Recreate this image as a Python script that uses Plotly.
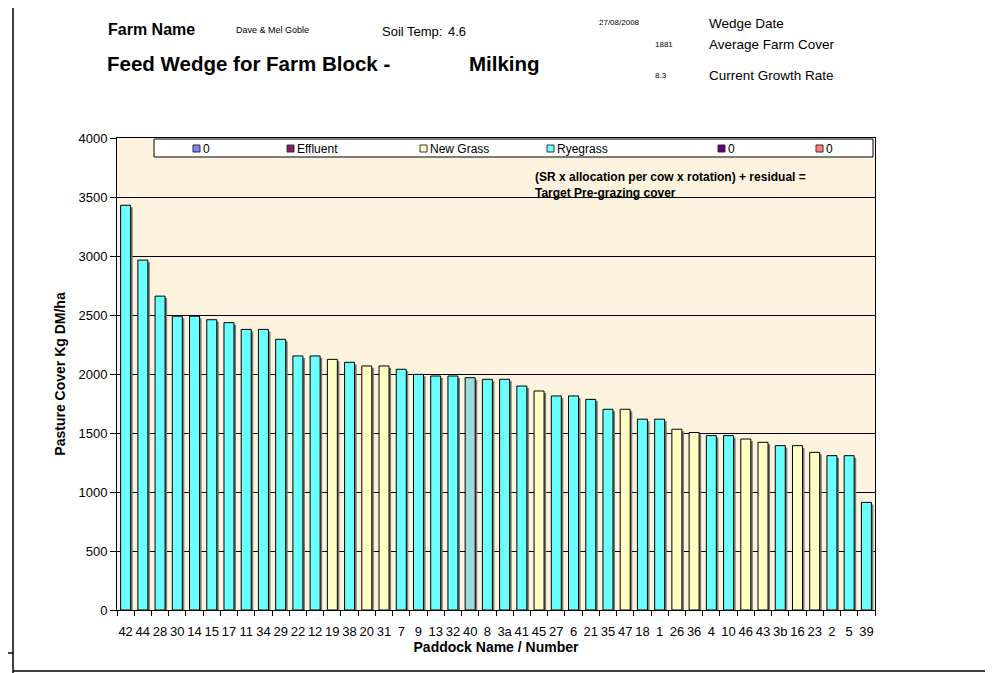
import plotly.graph_objects as go

# ---------------- data ----------------
paddocks = ["42", "44", "28", "30", "14", "15", "17", "11", "34", "29",
            "22", "12", "19", "38", "20", "31", "7", "9", "13", "32",
            "40", "8", "3a", "41", "45", "27", "6", "21", "35", "47",
            "18", "1", "26", "36", "4", "10", "46", "43", "3b", "16",
            "23", "2", "5", "39"]
cover = [3430, 2965, 2660, 2490, 2490, 2460, 2435, 2378, 2378, 2294,
         2153, 2153, 2124, 2099, 2068, 2068, 2040, 1997, 1983, 1983,
         1969, 1955, 1955, 1898, 1856, 1814, 1814, 1785, 1701, 1701,
         1617, 1617, 1532, 1504, 1478, 1478, 1449, 1421, 1393, 1393,
         1336, 1308, 1308, 912]
crop = ["Ryegrass", "Ryegrass", "Ryegrass", "Ryegrass", "Ryegrass", "Ryegrass", "Ryegrass", "Ryegrass", "Ryegrass", "Ryegrass",
        "Ryegrass", "Ryegrass", "New Grass", "Ryegrass", "New Grass", "New Grass", "Ryegrass", "Ryegrass", "Ryegrass", "Ryegrass",
        "Ryegrass", "Ryegrass", "Ryegrass", "Ryegrass", "New Grass", "Ryegrass", "Ryegrass", "Ryegrass", "Ryegrass", "New Grass",
        "Ryegrass", "Ryegrass", "New Grass", "New Grass", "Ryegrass", "Ryegrass", "New Grass", "New Grass", "Ryegrass", "New Grass",
        "New Grass", "Ryegrass", "Ryegrass", "Ryegrass"]
legend_names = ["0", "Effluent", "New Grass", "Ryegrass", "0", "0"]
y_ticks = [0, 500, 1000, 1500, 2000, 2500, 3000, 3500, 4000]

# ---------------- style ----------------
crop_colors = {"Ryegrass": "#6CFFFF", "New Grass": "#FFFFC2"}
highlight = {"40": "#9EDBDE"}
legend_colors = ["#7F7FFF", "#7F1F5F", "#FFFFC2", "#6CFFFF", "#5F0080", "#FF7F7F"]
legend_x = [193, 287, 420, 547, 718, 816]  # pixel positions of swatches (page coords)

OFF = 8  # page body margin of the html page
W, H = 993 - OFF, 673 - OFF
PL, PR, PT, PB = 117, 875, 138, 610   # plot area in page coords
FONT = "Liberation Sans, Arial, sans-serif"

def px_x(p):
    return (p - PL) / (PR - PL)

def px_y(p):
    return (PB - p) / (PB - PT)

bar_colors = [highlight.get(p, crop_colors[c]) for p, c in zip(paddocks, crop)]
bw = 0.58
shadow_drop = 2 * 4000 / (PB - PT)

fig = go.Figure()
fig.add_trace(go.Bar(
    x=paddocks, y=[v - shadow_drop for v in cover],
    width=bw, offset=-bw / 2 + 0.12,
    marker=dict(color="#7A7A72", line=dict(width=0)),
    hoverinfo="skip", showlegend=False))
fig.add_trace(go.Bar(
    x=paddocks, y=cover, width=bw, offset=-bw / 2,
    marker=dict(color=bar_colors, line=dict(color="#000000", width=1)),
    showlegend=False, name="Pasture cover"))

shapes = []
annotations = []

# legend box
shapes.append(dict(type="rect", xref="paper", yref="paper",
                   x0=px_x(154), x1=px_x(873), y0=px_y(157), y1=px_y(139),
                   fillcolor="#FFFFFF", line=dict(color="#000000", width=1), layer="above"))
for name, col, lx in zip(legend_names, legend_colors, legend_x):
    shapes.append(dict(type="rect", xref="paper", yref="paper",
                       x0=px_x(lx), x1=px_x(lx + 7), y0=px_y(152), y1=px_y(145),
                       fillcolor=col, line=dict(color="#333333", width=1), layer="above"))
    annotations.append(dict(text=name, xref="paper", yref="paper",
                            x=px_x(lx + 8), y=px_y(148.5), xanchor="left", yanchor="middle",
                            showarrow=False, font=dict(family=FONT, size=12, color="#000000")))

# page frame lines
frame = [(13, 0, 13, 673), (0, 653, 13, 653), (13, 671, 990, 671)]
for x0, y0, x1, y1 in frame:
    shapes.append(dict(type="line", xref="paper", yref="paper",
                       x0=px_x(x0), y0=px_y(y0), x1=px_x(x1), y1=px_y(y1),
                       line=dict(color="#000000", width=1.5)))
shapes.append(dict(type="line", xref="paper", yref="paper",
                   x0=px_x(990), y0=px_y(0), x1=px_x(990), y1=px_y(671),
                   line=dict(color="#BDBDBD", width=1)))

def txt(s, x, y, size, bold=False, anchor="left"):
    annotations.append(dict(text=f"<b>{s}</b>" if bold else s, xref="paper", yref="paper",
                            x=px_x(x), y=px_y(y), xanchor=anchor, yanchor="middle",
                            showarrow=False, font=dict(family=FONT, size=size, color="#000000")))

txt("Farm Name", 106, 29, 16, bold=True)
txt("Dave &amp; Mel Goble", 234, 30, 9)
txt("Soil Temp:", 380, 31, 13)
txt("4.6", 446, 31, 13)
txt("Feed Wedge for Farm Block -", 105, 63, 20.5, bold=True)
txt("Milking", 467, 63, 20.5, bold=True)
txt("27/08/2008", 597, 22, 8)
txt("Wedge Date", 707, 24, 13.5)
txt("1881", 653, 45, 8)
txt("Average Farm Cover", 707, 45, 13.5)
txt("8.3", 653, 76, 8)
txt("Current Growth Rate", 707, 76, 13.5)
txt("(SR x allocation per cow x rotation) + residual =", 533, 177, 12, bold=True)
txt("Target Pre-grazing cover", 533, 193, 12, bold=True)

fig.update_layout(
    width=W, height=H,
    margin=dict(l=PL - OFF, r=W - (PR - OFF), t=PT - OFF, b=H - (PB - OFF), pad=0),
    paper_bgcolor="#FFFFFF", plot_bgcolor="#FDF3DE",
    barmode="overlay", bargap=0.42,
    font=dict(family=FONT, size=13, color="#000000"),
    shapes=shapes, annotations=annotations,
    showlegend=False,
    xaxis=dict(type="category", categoryorder="array", categoryarray=paddocks,
               showline=True, linecolor="#000000", linewidth=1, mirror=True,
               ticks="outside", ticklen=5, tickcolor="#000000", tickson="boundaries",
               ticklabelstandoff=9,
               showgrid=False, tickangle=0, tickfont=dict(family=FONT, size=13),
               title=dict(text="<b>Paddock Name / Number</b>", standoff=3,
                          font=dict(family=FONT, size=14))),
    yaxis=dict(range=[0, 4000], tickvals=y_ticks, showline=True, linecolor="#000000",
               linewidth=1, mirror=True, ticks="outside", ticklen=6, tickcolor="#000000",
               showgrid=True, gridcolor="#000000", gridwidth=1, zeroline=False,
               tickfont=dict(family=FONT, size=13),
               title=dict(text="<b>Pasture Cover Kg DM/ha</b>", standoff=9,
                          font=dict(family=FONT, size=14))),
)

fig.write_html("out.html")
